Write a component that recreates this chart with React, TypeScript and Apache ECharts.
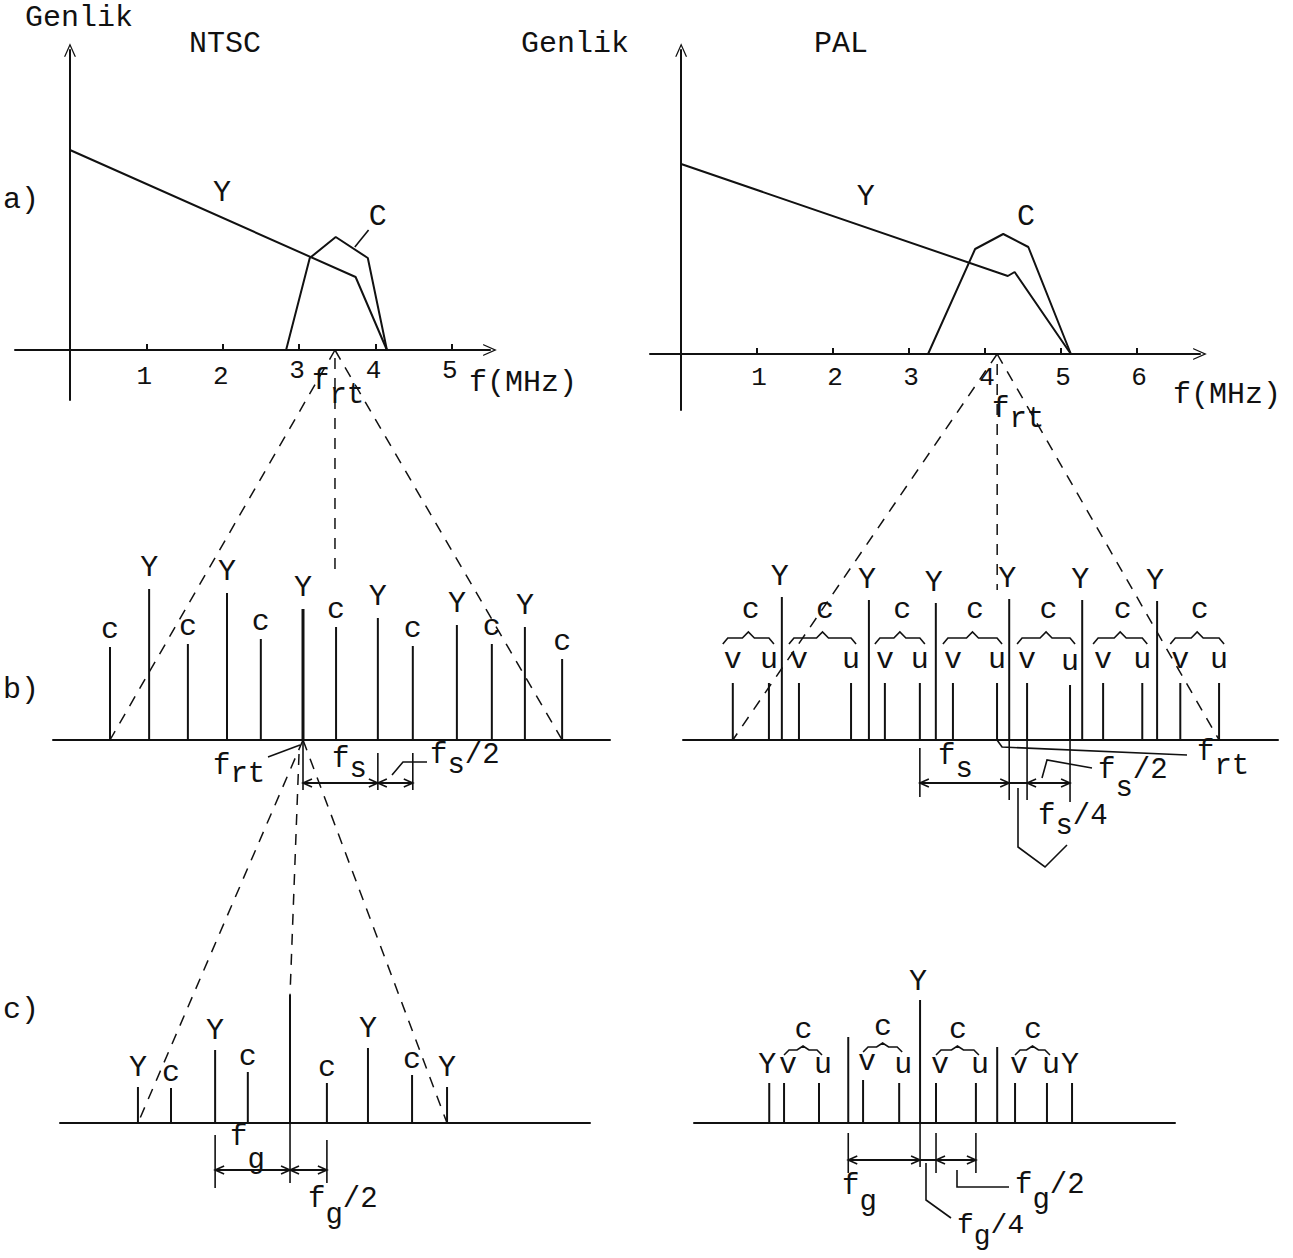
import React, { useEffect, useRef } from "react";
import * as echarts from "echarts";

// ---------------- data ----------------
// a) spectra: x in MHz, y in relative amplitude
const ntscTickValues = [1, 2, 3, 4, 5];
const palTickValues = [1, 2, 3, 4, 5, 6];
const ntscLumaY = [[0, 2.0], [3.74, 0.73], [4.15, 0]];
const ntscChromaC = [[2.83, 0], [3.14, 0.92], [3.48, 1.13], [3.9, 0.92], [4.15, 0]];
const palLumaY = [[0, 1.9], [4.3, 0.78], [4.39, 0.82], [5.13, 0]];
const palChromaC = [[3.25, 0], [3.87, 1.05], [4.24, 1.2], [4.57, 1.07], [5.13, 0]];
const ntscFrtMHz = 3.47;
const palFrtMHz = 4.16;

// b) NTSC spectral lines (x relative to f_rt, height, label)
const ntscBX = [-5.08, -4.05, -3.03, -2.0, -1.11, 0, 0.87, 1.97, 2.89, 4.05, 4.97, 5.84, 6.82];
const ntscBH = [0.93, 1.51, 0.96, 1.47, 1.01, 1.31, 1.13, 1.22, 0.94, 1.15, 0.96, 1.13, 0.81];
const ntscBLabels = ["c", "Y", "c", "Y", "c", "Y", "c", "Y", "c", "Y", "c", "Y", "c"];
const ntscBSpans = [[0, 1.97], [1.97, 2.89]];

// c) NTSC spectral lines
const ntscCX = [-4.0, -3.13, -1.97, -1.11, 0, 0.97, 2.05, 3.21, 4.13];
const ntscCH = [0.36, 0.35, 0.73, 0.51, 1.28, 0.4, 0.75, 0.48, 0.36];
const ntscCLabels = ["Y", "c", "Y", "c", "", "c", "Y", "c", "Y"];
const ntscCSpans = [[-1.97, 0], [0, 0.97]];

// b) PAL spectral lines
const palBX = [-6.95, -6.0, -5.66, -5.21, -3.84, -3.37, -2.95, -2.03, -1.61, -1.16, 0, 0.32, 0.79, 1.92, 2.24, 2.79, 3.82, 4.21, 4.82, 5.84];
const palBH = [0.57, 0.57, 1.43, 0.57, 0.57, 1.4, 0.57, 0.57, 1.37, 0.57, 0.57, 1.41, 0.57, 0.55, 1.4, 0.57, 0.57, 1.39, 0.57, 0.57];
const palBLabels = ["v", "u", "Y", "v", "u", "Y", "v", "u", "Y", "v", "u", "Y", "v", "u", "Y", "v", "u", "Y", "v", "u"];
const palBSpans = [[-2.03, 0.32], [0.79, 1.92]];

// c) PAL spectral lines
const palCX = [-3.97, -3.58, -2.66, -1.89, -1.5, -0.55, 0, 0.42, 1.47, 2.03, 2.5, 3.34, 4.0];
const palCH = [0.4, 0.4, 0.4, 0.86, 0.43, 0.4, 1.23, 0.4, 0.4, 0.76, 0.4, 0.4, 0.4];
const palCLabels = ["Y", "v", "u", "", "v", "u", "Y", "v", "u", "", "v", "u", "Y"];
const palCSpans = [[-1.89, 0], [0.42, 1.47]];

// ---------------- styles ----------------
const FONT = '"Liberation Mono", "DejaVu Sans Mono", monospace';
const INK = "#111";
const ARROW = "path://M0,16 L7,0 L14,16 L12.4,16 L7,3.6 L1.6,16 Z";

function mhzXAxis(grid: number, min: number, max: number, ticks: number[]) {
  return {
    type: "value", gridIndex: grid, min, max,
    axisLine: { show: true, onZero: true, symbol: ["none", ARROW], symbolSize: [12, 16], lineStyle: { color: INK, width: 2 } },
    axisTick: { show: true, inside: true, length: 6, customValues: ticks, lineStyle: { color: INK, width: 2 } },
    axisLabel: { show: false },
    splitLine: { show: false },
  };
}
function ampYAxis(grid: number, min: number, max: number) {
  return {
    type: "value", gridIndex: grid, min, max,
    axisLine: { show: true, onZero: true, symbol: ["none", ARROW], symbolSize: [12, 16], lineStyle: { color: INK, width: 2 } },
    axisTick: { show: false }, axisLabel: { show: false }, splitLine: { show: false },
  };
}
function baseXAxis(grid: number, min: number, max: number) {
  return {
    type: "value", gridIndex: grid, min, max,
    axisLine: { show: true, onZero: true, lineStyle: { color: INK, width: 2 } },
    axisTick: { show: false }, axisLabel: { show: false }, splitLine: { show: false },
  };
}
function hiddenYAxis(grid: number) {
  return {
    type: "value", gridIndex: grid, min: -1, max: 2,
    axisLine: { show: false }, axisTick: { show: false }, axisLabel: { show: false }, splitLine: { show: false },
  };
}
function curve(grid: number, data: number[][]) {
  return {
    type: "line", xAxisIndex: grid, yAxisIndex: grid, data, showSymbol: false, symbol: "none",
    lineStyle: { color: INK, width: 2 }, silent: true, z: 5,
  };
}
function stems(grid: number, xs: number[], hs: number[], boldIndex = -1) {
  return {
    type: "custom", xAxisIndex: grid, yAxisIndex: grid, clip: false, silent: true, z: 5,
    data: xs.map((x, i) => [x, hs[i]]),
    renderItem: (params: any, api: any) => {
      const a = api.coord([api.value(0), 0]);
      const b = api.coord([api.value(0), api.value(1)]);
      return {
        type: "line",
        shape: { x1: a[0], y1: a[1], x2: b[0], y2: b[1] },
        style: { stroke: INK, lineWidth: params.dataIndex === boldIndex ? 3 : 2 },
      };
    },
  };
}

function buildOption() {
  return {
    animation: false,
    backgroundColor: "#fff",
    grid: [
      { left: 15, top: 50, width: 475, height: 350 },
      { left: 650, top: 50, width: 550, height: 360 },
      { left: 53, top: 540, width: 557, height: 300 },
      { left: 683, top: 540, width: 595, height: 300 },
      { left: 60, top: 923, width: 530, height: 300 },
      { left: 694, top: 923, width: 481, height: 300 },
    ],
    xAxis: [
      mhzXAxis(0, -0.72, 5.5, ntscTickValues),
      mhzXAxis(1, -0.41, 6.83, palTickValues),
      baseXAxis(2, -6.58, 8.08),
      baseXAxis(3, -8.26, 7.39),
      baseXAxis(4, -6.05, 7.89),
      baseXAxis(5, -5.95, 6.71),
    ],
    yAxis: [
      ampYAxis(0, -0.5, 3.0),
      ampYAxis(1, -0.56, 3.04),
      hiddenYAxis(2),
      hiddenYAxis(3),
      hiddenYAxis(4),
      hiddenYAxis(5),
    ],
    series: [
      curve(0, ntscLumaY),
      curve(0, ntscChromaC),
      curve(1, palLumaY),
      curve(1, palChromaC),
      stems(2, ntscBX, ntscBH, 5),
      stems(3, palBX, palBH),
      stems(4, ntscCX, ntscCH),
      stems(5, palCX, palCH),
    ],
  };
}

function buildGraphic(chart: any) {
  const P = (g: number, x: number, y: number): number[] =>
    chart.convertToPixel({ gridIndex: g }, [x, y]) as number[];
  const els: any[] = [];
  const L = (a: number[], b: number[], w = 2, dash?: number[]) =>
    els.push({
      type: "line", z: 15, silent: true,
      shape: { x1: a[0], y1: a[1], x2: b[0], y2: b[1] },
      style: { stroke: INK, lineWidth: w, lineDash: dash },
    });
  const PL = (pts: number[][], w = 1.6) =>
    els.push({
      type: "polyline", z: 15, silent: true,
      shape: { points: pts },
      style: { stroke: INK, lineWidth: w, fill: "transparent" },
    });
  const T = (x: number, y: number, text: string, align = "center", size = 30) =>
    els.push({
      type: "text", z: 20, silent: true, x, y,
      style: { text, fontFamily: FONT, fontSize: size, fill: INK, align, verticalAlign: "middle" },
    });
  const F = (left: number, mid: number, sub: string, tail: string, dy: number, size = 29) => {
    const adv = size * 0.6;
    T(left, mid, "f", "left", size);
    T(left + adv, mid + dy, sub, "left", size);
    if (tail) T(left + adv * (1 + sub.length), mid, tail, "left", size);
  };
  const span = (g: number, x1: number, x2: number, y: number) => {
    const a = P(g, x1, y);
    const b = P(g, x2, y);
    L(a, b, 2);
    PL([[a[0] + 9, a[1] - 4], a, [a[0] + 9, a[1] + 4]]);
    PL([[b[0] - 9, b[1] - 4], b, [b[0] - 9, b[1] + 4]]);
  };
  const tick = (g: number, x: number, y0: number, y1: number) => L(P(g, x, y0), P(g, x, y1), 1.6);
  const brace = (x1: number, x2: number, y: number, drop: number, rise: number) => {
    const m = (x1 + x2) / 2;
    PL([[x1, y + drop], [x1 + 5, y], [m - 6, y], [m, y - rise], [m + 6, y], [x2 - 5, y], [x2, y + drop]], 1.6);
  };
  const DASH = [11, 9];

  // titles and panel tags
  T(25, 18, "Genlik", "left");
  T(189, 44, "NTSC", "left");
  T(521, 44, "Genlik", "left");
  T(814, 44, "PAL", "left");
  T(3, 200, "a)", "left");
  T(3, 690, "b)", "left");
  T(3, 1010, "c)", "left");
  T(469, 383, "f(MHz)", "left");
  T(1173, 395, "f(MHz)", "left");

  // a) tick labels (below the zero line)
  ntscTickValues.forEach((v) => {
    const q = P(0, v, 0);
    T(q[0] - 2, q[1] + (v >= 3 ? 21 : 27), String(v), "center", 26);
  });
  palTickValues.forEach((v) => {
    const q = P(1, v, 0);
    T(q[0] + 2, q[1] + 24, String(v), "center", 26);
  });

  // a) labels
  let p = P(0, 1.99, 1.57); T(p[0], p[1], "Y");
  p = P(0, 4.03, 1.33); T(p[0], p[1], "C");
  L(P(0, 3.91, 1.2), P(0, 3.73, 1.03), 1.6);
  p = P(1, 2.43, 1.57); T(p[0], p[1], "Y");
  p = P(1, 4.54, 1.37); T(p[0], p[1], "C");
  F(312, 381, "rt", "", 14);
  F(992, 409, "rt", "", 10);

  // connectors NTSC a -> b
  const na = P(0, ntscFrtMHz, 0);
  L(na, P(2, ntscBX[0], 0), 1.5, DASH);
  L(na, P(2, ntscBX[ntscBX.length - 1], 0), 1.5, DASH);
  L([na[0], na[1] + 8], [na[0], P(2, 0, 1.65)[1]], 1.5, DASH);
  // connectors NTSC b -> c
  const nb = P(2, 0, 0);
  L(nb, P(4, ntscCX[0], 0), 1.5, DASH);
  L(nb, P(4, ntscCX[ntscCX.length - 1], 0), 1.5, DASH);
  const ncTop = P(4, 0, ntscCH[4]);
  L([nb[0] - 4, nb[1] + 14], ncTop, 1.5, DASH);
  // connectors PAL a -> b
  const pa = P(1, palFrtMHz, 0);
  L(pa, P(3, palBX[0], 0), 1.5, DASH);
  L(pa, P(3, palBX[palBX.length - 1], 0), 1.5, DASH);
  L([pa[0], pa[1] + 10], [pa[0], P(3, 0, 1.5)[1]], 1.5, DASH);

  // NTSC b labels
  ntscBX.forEach((x, i) => {
    const q = P(2, x, ntscBH[i]);
    T(q[0], q[1] - (ntscBLabels[i] === "Y" ? 21 : 17), ntscBLabels[i]);
  });
  ntscBSpans.forEach((s) => span(2, s[0], s[1], -0.43));
  tick(2, 0, 0, -0.5);
  tick(2, 1.97, -0.13, -0.5);
  tick(2, 2.89, -0.13, -0.5);
  F(213, 766, "rt", "", 8);
  L([268, 757], [300, 745], 1.6);
  F(332, 759, "s", "", 10);
  PL([[392, 775], [403, 762], [427, 762]]);
  F(430, 755, "s", "/2", 10);

  // NTSC c labels
  ntscCX.forEach((x, i) => {
    if (!ntscCLabels[i]) return;
    const q = P(4, x, ntscCH[i]);
    T(q[0], q[1] - (ntscCLabels[i] === "Y" ? 19 : 15), ntscCLabels[i]);
  });
  ntscCSpans.forEach((s) => span(4, s[0], s[1], -0.47));
  tick(4, -1.97, -0.12, -0.65);
  tick(4, 0, 0, -0.6);
  tick(4, 0.97, -0.17, -0.6);
  F(230, 1137, "g", "", 23);
  F(308, 1199, "g", "/2", 16);

  // PAL b labels
  palBX.forEach((x, i) => {
    const k = palBLabels[i];
    const q = P(3, x, palBH[i]);
    if (k === "Y") T(q[0] - 2, q[1] - 20, "Y");
    else T(q[0], q[1] - 23, k);
    if (k === "v" && palBLabels[i + 1] === "u") {
      const r = P(3, palBX[i + 1], palBH[i + 1]);
      brace(q[0] - 10, r[0] + 5, q[1] - 45, 6, 6);
      T((q[0] + r[0]) / 2, q[1] - 73, "c");
    }
  });
  palBSpans.forEach((s) => span(3, s[0], s[1], -0.43));
  L(P(3, 0.32, -0.43), P(3, 0.79, -0.43), 2);
  tick(3, -2.03, -0.08, -0.57);
  tick(3, 0.32, 0, -0.6);
  tick(3, 0.79, 0, -0.6);
  tick(3, 1.92, 0, -0.62);
  const pu = P(3, 0, 0);
  PL([pu, [pu[0] + 5, pu[1] + 7], [1187, 755]]);
  F(1197, 752, "rt", "", 14);
  F(938, 756, "s", "", 13);
  PL([[1042, 778], [1047, 760], [1092, 768]]);
  F(1098, 770, "s", "/2", 18);
  F(1038, 816, "s", "/4", 10);
  PL([[1018, 788], [1018, 847], [1045, 867], [1067, 845]]);

  // PAL c labels
  palCX.forEach((x, i) => {
    const k = palCLabels[i];
    if (!k) return;
    const q = P(5, x, palCH[i]);
    if (k === "Y") T(q[0] - 2, q[1] - 18, "Y");
    else T(q[0] + 4, q[1] - 18, k);
    if (k === "v" && palCLabels[i + 1] === "u") {
      const r = P(5, palCX[i + 1], palCH[i + 1]);
      brace(q[0], r[0] + 3, q[1] - 33, 5, 4);
      T((q[0] + r[0]) / 2 + 2, q[1] - 53, "c");
    }
  });
  palCSpans.forEach((s) => span(5, s[0], s[1], -0.37));
  L(P(5, 0, -0.37), P(5, 0.42, -0.37), 2);
  tick(5, -1.89, -0.1, -0.5);
  tick(5, 0, 0, -0.44);
  tick(5, 0.42, -0.1, -0.5);
  tick(5, 1.47, -0.1, -0.5);
  PL([[926, 1163], [926, 1200], [951, 1218]]);
  F(957, 1225, "g", "/4", 11, 28);
  PL([[957, 1170], [957, 1187], [1009, 1187]]);
  F(1015, 1185, "g", "/2", 15);
  F(842, 1186, "g", "", 16);

  return els;
}

export default function App() {
  const ref = useRef<HTMLDivElement>(null);
  useEffect(() => {
    if (!ref.current) return;
    const chart = echarts.init(ref.current, null, { renderer: "svg" });
    chart.setOption(buildOption() as any);
    chart.setOption({ graphic: buildGraphic(chart) } as any);
    return () => chart.dispose();
  }, []);
  return (
    <div
      ref={ref}
      style={{ position: "fixed", left: 0, top: 0, width: 1293, height: 1258, background: "#fff" }}
    />
  );
}
